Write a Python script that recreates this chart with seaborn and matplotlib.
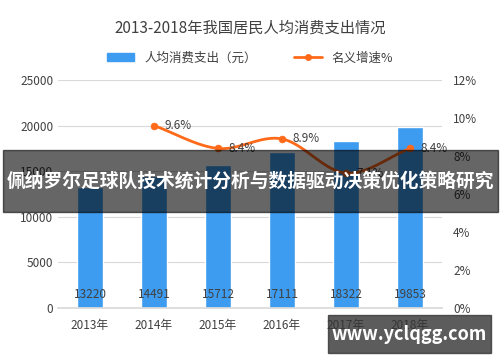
import numpy as np
import pandas as pd
import matplotlib
matplotlib.use("Agg")
import matplotlib.pyplot as plt
import seaborn as sns
from matplotlib.patches import Patch
from matplotlib.lines import Line2D

years = ["2013年", "2014年", "2015年", "2016年", "2017年", "2018年"]
spending = [13220, 14491, 15712, 17111, 18322, 19853]
growth_years = ["2014年", "2015年", "2016年", "2017年", "2018年"]
growth = [9.6, 8.4, 8.9, 7.1, 8.4]

title = "2013-2018年我国居民人均消费支出情况"
banner = "佩纳罗尔足球队技术统计分析与数据驱动决策优化策略研究"
site = "www.yclqgg.com"

sns.set_theme(style="white")
plt.rcParams['font.family'] = ['Noto Sans CJK SC', 'DejaVu Sans']

bar_color = "#3d9cf0"
line_color = "#ff6a1a"
text_color = "#404040"


def catmull_rom(xs, ys, n=30):
    # smooth curve through the points, like the office "smoothed line"
    xs = np.asarray(xs, float)
    ys = np.asarray(ys, float)
    px = np.concatenate([[2 * xs[0] - xs[1]], xs, [2 * xs[-1] - xs[-2]]])
    py = np.concatenate([[2 * ys[0] - ys[1]], ys, [2 * ys[-1] - ys[-2]]])
    outx, outy = [], []
    for i in range(1, len(px) - 2):
        t = np.linspace(0, 1, n)
        for p, out in ((px, outx), (py, outy)):
            p0, p1, p2, p3 = p[i - 1], p[i], p[i + 1], p[i + 2]
            out.extend(0.5 * (2 * p1 + (-p0 + p2) * t
                              + (2 * p0 - 5 * p1 + 4 * p2 - p3) * t ** 2
                              + (-p0 + 3 * p1 - 3 * p2 + p3) * t ** 3))
    return np.array(outx), np.array(outy)


df = pd.DataFrame({"year": years, "spending": spending})
gdf = pd.DataFrame({"year": growth_years, "growth": growth})
gdf["pos"] = [years.index(y) for y in growth_years]

fig = plt.figure(figsize=(5, 3.62), dpi=100)
ax = fig.add_axes([0.116, 0.149, 0.768, 0.63])

sns.barplot(data=df, x="year", y="spending", color=bar_color, width=0.41,
            saturation=1, ax=ax)
ax.set_ylim(0, 25000)
ax.set_yticks(range(0, 25001, 5000))
ax.set_xlim(-0.5, 5.5)
ax.set_xlabel("")
ax.set_ylabel("")
ax.grid(axis="y", color="#d9d9d9", linewidth=0.8)
ax.set_axisbelow(True)
for s in ["top", "right", "left"]:
    ax.spines[s].set_visible(False)
ax.spines["bottom"].set_color("#d9d9d9")
ax.tick_params(axis="both", length=0, labelsize=8.5, colors=text_color)
ax.tick_params(axis="x", pad=8)

for i, v in enumerate(spending):
    ax.text(i, 1500, str(v), ha="center", va="center", fontsize=8.5, color=text_color)

ax2 = ax.twinx()
cx, cy = catmull_rom(gdf["pos"], gdf["growth"])
ax2.plot(cx, cy, color=line_color, linewidth=2, zorder=3)
sns.scatterplot(data=gdf, x="pos", y="growth", color=line_color, s=25,
                edgecolor=line_color, ax=ax2, zorder=4, legend=False)
for p, g in zip(gdf["pos"], gdf["growth"]):
    ax2.text(p + 0.17, g, f"{g}%", ha="left", va="center", fontsize=8.5, color=text_color)
ax2.set_ylim(0, 12)
ax2.set_yticks(range(0, 13, 2))
ax2.set_yticklabels([f"{t}%" for t in range(0, 13, 2)])
ax2.set_ylabel("")
ax2.set_xlabel("")
for s in ["top", "right", "left", "bottom"]:
    ax2.spines[s].set_visible(False)
ax2.tick_params(axis="y", length=0, labelsize=8.5, colors=text_color, pad=8)
ax2.grid(False)

# legend above the plot
handles = [Patch(color=bar_color, label="人均消费支出（元）"),
           Line2D([0], [0], color=line_color, lw=2, marker="o", markersize=4,
                  label="名义增速%")]
fig.legend(handles=handles, loc="center", bbox_to_anchor=(0.5, 0.84), ncol=2,
           frameon=False, fontsize=9, handlelength=2.2, handleheight=0.5,
           columnspacing=3, labelcolor=text_color)

fig.text(0.5, 0.922, title, ha="center", va="center", fontsize=11, color=text_color)

# overlay banner and site tag
fig.patches.append(plt.Rectangle((0.006, 0.415), 0.99, 0.17, transform=fig.transFigure,
                                 color="black", alpha=0.6, zorder=10))
fig.text(0.5, 0.5, banner, ha="center", va="center", fontsize=13.5, weight="bold",
         color="white", zorder=11)
fig.patches.append(plt.Rectangle((0.656, 0.025), 0.326, 0.105, transform=fig.transFigure,
                                 color="#333333", alpha=0.8, zorder=10))
fig.text(0.819, 0.077, site, ha="center", va="center", fontsize=13, weight="bold",
         color="white", zorder=11)

fig.savefig("out.png", dpi=100)
